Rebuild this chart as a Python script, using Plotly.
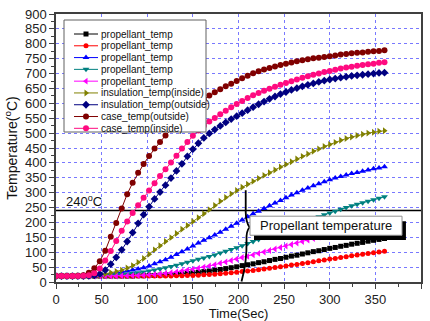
import plotly.graph_objects as go

# ---------------- data ----------------
time_sec = list(range(0, 361, 6))

propellant_1 = [20]*15 + [21, 21, 22, 22, 23, 24, 25, 26, 27, 29, 31, 33, 35, 37, 40, 42, 45, 48, 51, 55,
                          58, 61, 65, 68, 72, 76, 79, 83, 87, 90, 94, 98, 102, 105, 109, 113, 116, 120, 123,
                          127, 130, 133, 137, 140, 143, 146]
propellant_2 = [20]*21 + [20, 21, 21, 22, 22, 23, 24, 25, 26, 28, 29, 31, 33, 35, 37, 39, 41, 44, 46, 49,
                          51, 54, 57, 59, 62, 65, 68, 71, 74, 77, 79, 82, 85, 88, 91, 93, 96, 98, 101, 103]
propellant_3 = [20, 20, 20, 20, 20, 20, 20, 21, 23, 25, 28, 31, 34, 37, 40, 44, 48, 54, 61, 68,
                75, 83, 92, 102, 111, 121, 131, 140, 149, 158, 167, 177, 187, 197, 208, 219, 229, 238, 247, 256,
                265, 274, 283, 292, 300, 308, 316, 323, 330, 337, 343, 349, 354, 359, 364, 368, 372, 376, 380, 383,
                387]
propellant_4 = [20, 20, 20, 20, 20, 20, 20, 20, 21, 22, 23, 24, 25, 27, 29, 31, 34, 37, 40, 44,
                48, 52, 56, 61, 66, 71, 76, 81, 86, 91, 97, 103, 109, 115, 122, 129, 136, 143, 150, 157,
                164, 171, 178, 185, 192, 199, 206, 213, 219, 226, 232, 238, 244, 250, 256, 261, 266, 271, 276, 281,
                286]
propellant_5 = [20]*11 + [20, 21, 21, 22, 22, 23, 24, 25, 27, 29, 31, 34, 37, 40, 43, 46, 50, 54, 58, 63,
                          67, 72, 77, 82, 86, 91, 96, 101, 106, 111, 116, 121, 126, 131, 136, 141, 146, 151, 156,
                          160, 165, 170, 174, 179, 183, 187, 192, 196, 200, 204]
insulation_in = [20, 20, 20, 20, 20, 20, 21, 22, 24, 27, 31, 35, 40, 47, 55, 66, 79, 93, 108, 122,
                 136, 149, 163, 177, 190, 203, 216, 229, 243, 257, 271, 284, 296, 307, 318, 328, 338, 348, 358, 367,
                 376, 386, 395, 404, 413, 422, 430, 439, 447, 455, 462, 469, 476, 482, 487, 492, 496, 500, 503, 506,
                 508]
insulation_out = [20, 20, 20, 20, 20, 20, 21, 22, 27, 40, 60, 83, 108, 136, 166, 197, 226, 253, 279, 302,
                  325, 349, 373, 397, 422, 446, 466, 484, 499, 512, 524, 536, 547, 557, 567, 577, 587, 597, 606, 615,
                  623, 631, 638, 645, 651, 657, 662, 667, 672, 676, 680, 683, 686, 689, 692, 694, 696, 698, 700, 702,
                  703]
case_out = [20, 20, 20, 20, 21, 23, 31, 46, 70, 105, 152, 198, 247, 295, 333, 367, 396, 423, 448, 470,
            492, 513, 533, 552, 570, 586, 601, 614, 626, 637, 647, 657, 666, 675, 684, 693, 701, 708, 714, 719,
            724, 729, 733, 737, 741, 745, 748, 751, 753, 756, 758, 761, 764, 766, 768, 770, 771, 773, 775, 776,
            778]
case_in = [20, 20, 20, 20, 20, 21, 23, 29, 45, 72, 104, 138, 172, 203, 232, 258, 283, 307, 332, 356,
           379, 401, 424, 448, 470, 491, 509, 525, 539, 551, 563, 575, 587, 598, 608, 618, 627, 635, 642, 649,
           656, 662, 668, 674, 680, 686, 691, 696, 700, 705, 709, 713, 717, 720, 723, 726, 729, 731, 733, 736,
           738]

series_names = ["propellant_temp", "propellant_temp", "propellant_temp", "propellant_temp", "propellant_temp",
                "insulation_temp(inside)", "insulation_temp(outside)", "case_temp(outside)", "case_temp(inside)"]
series_values = [propellant_1, propellant_2, propellant_3, propellant_4, propellant_5,
                 insulation_in, insulation_out, case_out, case_in]
series_colors = ["#000000", "#FF0000", "#0000FF", "#008080", "#FF00FF",
                 "#808000", "#000080", "#800000", "#FF0A80"]
series_symbols = ["square", "circle", "triangle-up", "triangle-down", "triangle-left",
                  "triangle-right", "diamond", "circle", "circle"]
series_sizes = [5, 5, 6, 6, 6, 6, 6, 6, 6]

limit_temp = 240
x_ticks = [0, 50, 100, 150, 200, 250, 300, 350, 400]

FONT = "Liberation Sans, Arial, sans-serif"

fig = go.Figure()

for name, vals, col, sym, sz in zip(series_names, series_values, series_colors, series_symbols, series_sizes):
    fig.add_trace(go.Scatter(
        x=time_sec, y=vals, name=name, mode="lines+markers",
        line=dict(color=col, width=1),
        marker=dict(color=col, symbol=sym, size=sz, line=dict(width=0)),
        showlegend=False, xaxis="x", yaxis="y"))

# ---------- custom legend (overlay axis in pixel units of plot area) ----------
fig.add_trace(go.Scatter(
    x=[8, 150, 150, 8, 8], y=[6, 6, 118, 118, 6], mode="lines", fill="toself",
    fillcolor="white", line=dict(color="#606060", width=1),
    showlegend=False, hoverinfo="skip", xaxis="x2", yaxis="y2"))
row0, rowstep = 20, 11.79
for i, (name, col, sym, sz) in enumerate(zip(series_names, series_colors, series_symbols, series_sizes)):
    ry = row0 + rowstep * i
    fig.add_trace(go.Scatter(
        x=[18, 42], y=[ry, ry], mode="lines", line=dict(color=col, width=1),
        showlegend=False, hoverinfo="skip", xaxis="x2", yaxis="y2"))
    fig.add_trace(go.Scatter(
        x=[30], y=[ry], mode="markers",
        marker=dict(color=col, symbol=sym, size=sz, line=dict(width=0)),
        showlegend=False, hoverinfo="skip", xaxis="x2", yaxis="y2"))
    fig.add_annotation(x=43, y=ry, xref="x2", yref="y2", text=name, showarrow=False,
                       xanchor="left", yanchor="middle", font=dict(family=FONT, size=10, color="#111"))

# ---------- 240 line, brace, callout ----------
fig.add_shape(type="line", x0=0, x1=400, y0=limit_temp, y1=limit_temp, xref="x", yref="y",
              line=dict(color="black", width=1.6), layer="between")
fig.add_annotation(x=9, y=limit_temp, xref="x", yref="y", text="240<sup>o</sup>C", showarrow=False,
                   xanchor="left", yanchor="bottom", yshift=0, font=dict(family=FONT, size=13, color="#111"))

fig.add_shape(type="path", xref="x", yref="y", layer="above",
              path="M 207.9,308 L 207.9,234 Q 208.2,200 212.1,184 Q 208.2,170 208.8,140 Q 209.3,66 203.3,2",
              line=dict(color="black", width=1.8))
fig.add_shape(type="rect", xref="x", yref="y", layer="above",
              x0=217, x1=383.5, y0=141, y1=204, fillcolor="black", line=dict(width=0))
fig.add_shape(type="rect", xref="x", yref="y", layer="above",
              x0=212.6, x1=379.2, y0=157, y1=221, fillcolor="white", line=dict(color="#909090", width=1))
fig.add_annotation(x=295.9, y=189, xref="x", yref="y", text="Propellant temperature", showarrow=False,
                   xanchor="center", yanchor="middle", font=dict(family=FONT, size=13, color="#111"))

axis_common = dict(showline=True, linecolor="#404040", linewidth=1.5, mirror=True,
                   ticks="outside", ticklen=5, tickwidth=1, tickcolor="#404040",
                   showgrid=True, gridcolor="#7878ff", griddash="dot", gridwidth=1,
                   zeroline=False, automargin=False,
                   tickfont=dict(family=FONT, size=13, color="#222"))

fig.update_layout(
    width=430, height=321,
    margin=dict(l=56, r=9, t=14, b=39),
    paper_bgcolor="white", plot_bgcolor="white",
    showlegend=False,
    xaxis=dict(range=[0, 400], tickvals=x_ticks,
               minor=dict(ticks="outside", ticklen=3, dtick=25, tickcolor="#404040", showgrid=False),
               title=dict(text="Time(Sec)", font=dict(family=FONT, size=13, color="#111"), standoff=0),
               **axis_common),
    yaxis=dict(range=[0, 900], dtick=50,
               minor=dict(ticks="outside", ticklen=3, dtick=25, tickcolor="#404040", showgrid=False),
               title=dict(text="Temperature(<sup>o</sup>C)", font=dict(family=FONT, size=14, color="#111"),
                          standoff=4),
               **axis_common),
    xaxis2=dict(range=[0, 365], overlaying="x", visible=False, fixedrange=True),
    yaxis2=dict(range=[268, 0], overlaying="y", visible=False, fixedrange=True),
)

fig.write_html("out.html", config={"displayModeBar": False},
               post_script="document.body.style.margin='0';document.body.style.padding='0';")
